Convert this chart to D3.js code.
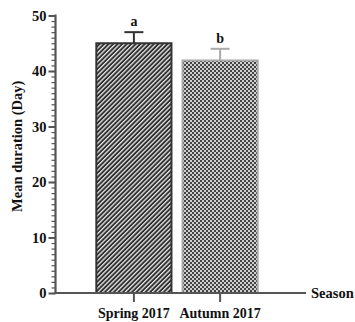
<!DOCTYPE html>
<html>
<head>
<meta charset="utf-8">
<script src="https://cdn.jsdelivr.net/npm/d3@7"></script>
<style>
  body { margin: 0; background: #fff; }
  text { font-family: "Liberation Serif", "Times New Roman", serif; font-weight: bold; }
</style>
</head>
<body>
<svg id="chart"></svg>
<script>
const width = 355;
const height = 322;

// data
const seasons = ["Spring 2017", "Autumn 2017"];
const means = [45, 41.9];
const errors = [2.0, 2.1];
const letters = ["a", "b"];
const yTicks = [0, 10, 20, 30, 40, 50];

const svg = d3.select("#chart")
  .attr("width", width)
  .attr("height", height);

const axisColor = "#555";
const strokeColors = ["#333", "#aaa"];

// patterns
const defs = svg.append("defs");

const stripe = defs.append("pattern")
  .attr("id", "stripes")
  .attr("patternUnits", "userSpaceOnUse")
  .attr("width", 3.2)
  .attr("height", 3.2)
  .attr("patternTransform", "rotate(45)");
stripe.append("rect").attr("width", 3.2).attr("height", 3.2).attr("fill", "#2e2e2e");
stripe.append("rect").attr("x", 0).attr("width", 1.3).attr("height", 3.2).attr("fill", "#e8e8e8");

const checker = defs.append("pattern")
  .attr("id", "checks")
  .attr("patternUnits", "userSpaceOnUse")
  .attr("width", 4)
  .attr("height", 4);
checker.append("rect").attr("width", 4).attr("height", 4).attr("fill", "#cfcfcf");
checker.append("rect").attr("width", 2).attr("height", 2).attr("fill", "#444");
checker.append("rect").attr("x", 2).attr("y", 2).attr("width", 2).attr("height", 2).attr("fill", "#444");

const fills = ["url(#stripes)", "url(#checks)"];

// scales
const x = d3.scaleBand()
  .domain(seasons)
  .range([91, 263])
  .paddingInner(0.105)
  .paddingOuter(0.05);

const y = d3.scaleLinear()
  .domain([0, 50])
  .range([293, 15.5]);

const axisX = 55.5;

// error bars (behind bars)
const err = svg.append("g");
seasons.forEach((s, i) => {
  const cx = x(s) + x.bandwidth() / 2;
  err.append("line")
    .attr("x1", cx).attr("x2", cx)
    .attr("y1", y(means[i])).attr("y2", y(means[i] + errors[i]))
    .attr("stroke", strokeColors[i]).attr("stroke-width", 2);
  err.append("line")
    .attr("x1", cx - 9.5).attr("x2", cx + 9.5)
    .attr("y1", y(means[i] + errors[i])).attr("y2", y(means[i] + errors[i]))
    .attr("stroke", strokeColors[i]).attr("stroke-width", 2);
  svg.append("text")
    .attr("x", cx)
    .attr("y", y(means[i] + errors[i]) - 6)
    .attr("text-anchor", "middle")
    .attr("font-size", "14px")
    .attr("fill", "#111")
    .text(letters[i]);
});

// bars
svg.append("g").selectAll("rect")
  .data(seasons)
  .enter()
  .append("rect")
  .attr("x", d => x(d) + 1)
  .attr("y", (d, i) => y(means[i]))
  .attr("width", x.bandwidth() - 2)
  .attr("height", (d, i) => y(0) - y(means[i]))
  .attr("fill", (d, i) => fills[i])
  .attr("stroke", (d, i) => strokeColors[i])
  .attr("stroke-width", 2);

// y axis with minor ticks
const yAxis = svg.append("g").attr("transform", `translate(${axisX},0)`);
yAxis.call(d3.axisLeft(y).tickValues(d3.range(0, 51, 1)).tickSize(4).tickFormat(""))
  .call(g => g.select(".domain").remove());
yAxis.selectAll(".tick line").attr("stroke", axisColor).attr("stroke-width", 1.2);

const yMajor = svg.append("g").attr("transform", `translate(${axisX},0)`);
yMajor.call(d3.axisLeft(y).tickValues(yTicks).tickSize(7).tickPadding(2))
  .call(g => g.select(".domain").remove());
yMajor.selectAll(".tick line").attr("stroke", axisColor).attr("stroke-width", 2);
yMajor.selectAll(".tick text")
  .attr("font-size", "14.5px")
  .attr("fill", "#111")
  .attr("font-family", "'Liberation Serif', 'Times New Roman', serif")
  .attr("font-weight", "bold");

svg.append("line")
  .attr("x1", axisX).attr("x2", axisX)
  .attr("y1", y(50) - 1).attr("y2", y(0) + 1)
  .attr("stroke", axisColor).attr("stroke-width", 2.2);

// x axis
const xAxis = svg.append("g").attr("transform", `translate(0,${y(0)})`);
xAxis.call(d3.axisBottom(x).tickSize(9).tickPadding(6))
  .call(g => g.select(".domain").remove());
xAxis.selectAll(".tick line").attr("stroke", axisColor).attr("stroke-width", 2);
xAxis.selectAll(".tick text")
  .attr("font-size", "14px")
  .attr("fill", "#111")
  .attr("font-family", "'Liberation Serif', 'Times New Roman', serif")
  .attr("font-weight", "bold");

svg.append("line")
  .attr("x1", axisX - 1).attr("x2", 306)
  .attr("y1", y(0)).attr("y2", y(0))
  .attr("stroke", axisColor).attr("stroke-width", 2.2);

svg.append("text")
  .attr("x", 311)
  .attr("y", y(0) + 5)
  .attr("font-size", "14.5px")
  .attr("fill", "#111")
  .text("Season");

svg.append("text")
  .attr("transform", `translate(22,${(y(0) + y(50)) / 2 - 8}) rotate(-90)`)
  .attr("text-anchor", "middle")
  .attr("font-size", "14.5px")
  .attr("fill", "#111")
  .text("Mean duration (Day)");
</script>
</body>
</html>
